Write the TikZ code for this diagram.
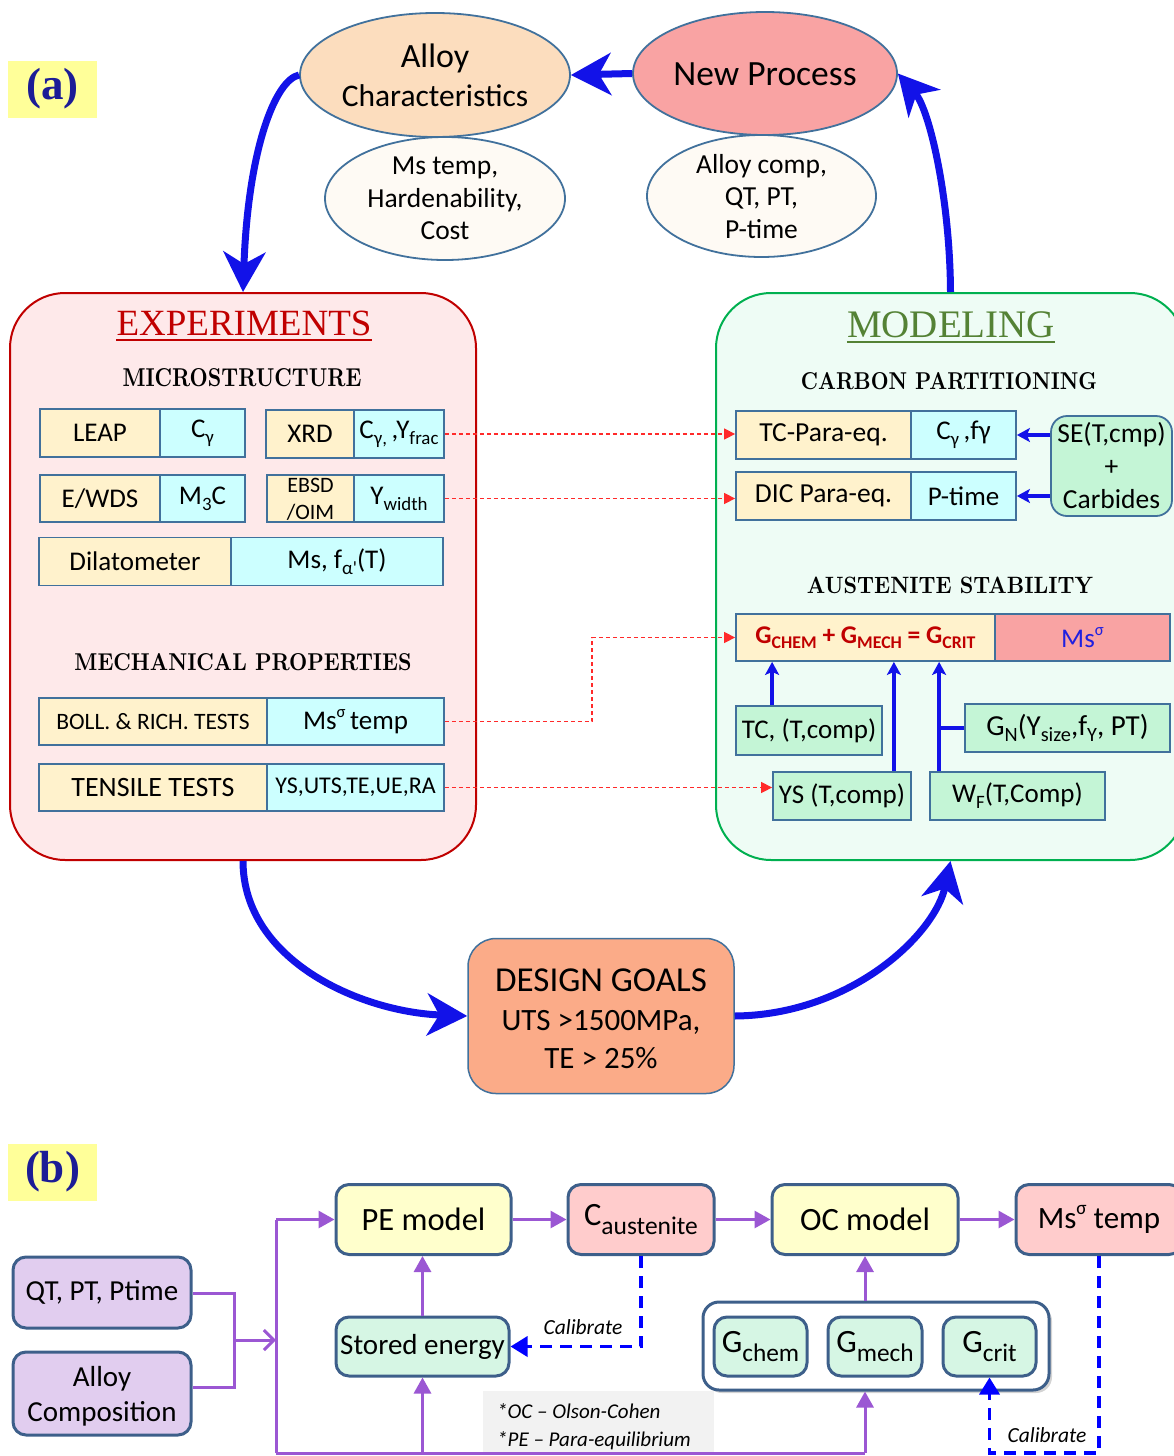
\documentclass[tikz,border=0pt]{standalone}
\usepackage{fontspec}
\usepackage{graphicx}
\usetikzlibrary{arrows.meta,shapes.geometric,shadows}
\newfontfamily\calf{Carlito}
\newfontfamily\tnr{Liberation Serif}
\definecolor{cellY}{HTML}{FFF2CC}
\definecolor{cellC}{HTML}{CCFFFF}
\definecolor{cellG}{HTML}{C4F5D6}
\definecolor{cellB}{HTML}{41719C}
\definecolor{peach}{HTML}{FCDDBE}
\definecolor{salmon}{HTML}{F9A3A3}
\definecolor{cream}{HTML}{FEFAF4}
\definecolor{expred}{HTML}{C00000}
\definecolor{expfill}{HTML}{FEE9EA}
\definecolor{modgreen}{HTML}{00B050}
\definecolor{modfill}{HTML}{EEFCF5}
\definecolor{modtitle}{HTML}{548235}
\definecolor{arrblue}{HTML}{1212E8}
\definecolor{lblyel}{HTML}{FFFF99}
\definecolor{lblblue}{HTML}{1C1C96}
\definecolor{dgfill}{HTML}{FBAB88}
\definecolor{bbord}{HTML}{3D5F8A}
\definecolor{byel}{HTML}{FFFFCC}
\definecolor{bpink}{HTML}{FFCCCC}
\definecolor{blav}{HTML}{E1CDEF}
\definecolor{bmint}{HTML}{D6F6E4}
\definecolor{purp}{HTML}{9B57D3}
\definecolor{notegray}{HTML}{F2F2F2}
\definecolor{redd}{HTML}{FF2A2A}
\definecolor{msblue}{HTML}{2020E0}
\newcommand\lo[1]{\raisebox{-0.22em}{\scalebox{0.7}{#1}}}
\newcommand\hi[1]{\raisebox{0.45em}{\scalebox{0.62}{#1}}}
\newcommand\headtxt[3]{\resizebox{#1pt}{#2pt}{\bfseries #3}}
\begin{document}
\begin{tikzpicture}[x=1pt,y=-1pt,
  sz/.style 2 args={minimum width=#1pt, minimum height=#2pt},
  ell/.style={ellipse, draw=cellB, line width=1.8pt, inner sep=0pt},
  cell/.style={draw=cellB, line width=1.8pt, inner sep=0pt, font=\calf\fontsize{27}{31}\selectfont},
  cy/.style={cell, fill=cellY},
  cc/.style={cell, fill=cellC},
  cg/.style={cell, fill=cellG},
  bigarr/.style={draw=arrblue, line width=7pt, -{Stealth[length=40pt,width=42pt,inset=12pt]}},
  sarr/.style={draw=arrblue, line width=4pt, -{Stealth[length=13pt,width=14pt,inset=3pt]}},
  sline/.style={draw=arrblue, line width=4pt},
  reddash/.style={draw=redd, line width=1.4pt, dash pattern=on 4pt off 3pt, -{Triangle[length=11pt,width=11pt]}},
  lbl/.style={fill=lblyel, sz={89}{57}, inner sep=0pt, font=\tnr\bfseries\fontsize{45}{50}\selectfont, text=lblblue},
  bbox/.style={draw=bbord, line width=3pt, rounded corners=13pt, inner sep=0pt, font=\calf\fontsize{32.5}{37}\selectfont},
  pline/.style={draw=purp, line width=3pt},
  parr/.style={pline, -{Triangle[length=16pt,width=17pt]}},
  bdash/.style={draw=blue, line width=3.5pt, dash pattern=on 12pt off 8pt, -{Triangle[length=17pt,width=20pt]}},
  etxt/.style={font=\calf\fontsize{27.5}{31}\selectfont, anchor=base},
  ]
\useasboundingbox (0,0) rectangle (1174,1456);

% ---------------- (a) ----------------
\node[lbl] (la) at (52.5,89) {(a)};

% ellipses
\node[ell, fill=peach, sz={270}{124}] (alloy) at (435,75) {};
\node[etxt, font=\calf\fontsize{34}{38}\selectfont] at (435,67) {Alloy};
\node[etxt, font=\calf\fontsize{31.5}{35}\selectfont] at (435,106) {Characteristics};

\node[ell, fill=salmon, sz={264}{123}] (newp) at (765,73.5) {};
\node[etxt, font=\calf\fontsize{35.5}{39}\selectfont] at (765,85) {New Process};

\node[ell, fill=cream, sz={240}{123}] (mst) at (445,198.5) {};
\node[etxt] at (445,174) {Ms temp,};
\node[etxt] at (445,207) {Hardenability,};
\node[etxt] at (445,239) {Cost};

\node[ell, fill=cream, sz={229}{122}] (acomp) at (761.5,196) {};
\node[etxt] at (761.5,173) {Alloy comp,};
\node[etxt] at (761.5,205) {QT, PT,};
\node[etxt] at (761.5,238) {P-time};

% main boxes
\node[draw=expred, line width=2pt, fill=expfill, rounded corners=55pt, sz={466}{567}] (exp) at (243,576.5) {};
\node[draw=modgreen, line width=2pt, fill=modfill, rounded corners=55pt, sz={469}{567}] (mod) at (950.5,576.5) {};

% titles
\node[anchor=base, inner sep=0pt, text=expred, font=\tnr\fontsize{37}{40}\selectfont] (t1) at (244,335) {EXPERIMENTS};
\draw[expred, line width=1.6pt] ([yshift=-5pt]t1.base west) -- ([yshift=-5pt]t1.base east);
\node[anchor=base, inner sep=0pt, text=modtitle, font=\tnr\fontsize{39}{42}\selectfont] (t2) at (951,337) {MODELING};
\draw[modtitle, line width=1.6pt] ([yshift=-5pt]t2.base west) -- ([yshift=-5pt]t2.base east);

\node[anchor=base, inner sep=0pt] (h1) at (242,386) {\headtxt{239}{18}{MICROSTRUCTURE}};
\node[anchor=base, inner sep=0pt] (h2) at (243,670) {\headtxt{337}{17}{MECHANICAL PROPERTIES}};
\node[anchor=base, inner sep=0pt] (h3) at (949,389) {\headtxt{296}{17}{CARBON PARTITIONING}};
\node[anchor=base, inner sep=0pt] (h4) at (950,593) {\headtxt{286}{16.5}{AUSTENITE STABILITY}};

% experiment cells
\node[cy, sz={120}{48}] (leap) at (100,433) {LEAP};
\node[cc, sz={85}{48}] (cg1) at (202.5,433) {C\lo{γ}};
\node[cy, sz={88}{48}] (xrd) at (310,434) {XRD};
\node[cc, sz={90}{48}] (cgy) at (399,434) {C\lo{γ,}\,,Y\lo{frac}};
\node[cy, sz={120}{47}] (ewds) at (100,498.5) {E/WDS};
\node[cc, sz={85}{47}] (m3c) at (202.5,498.5) {M\lo{3}C};
\node[cy, sz={87}{47}] (ebsd) at (310.5,498.5) {};
\node[etxt, font=\calf\fontsize{22}{24}\selectfont] at (310.5,492) {EBSD};
\node[etxt, font=\calf\fontsize{22}{24}\selectfont] at (310.5,519) {/OIM};
\node[cc, sz={90}{47}] (yw) at (399,498.5) {Y\lo{width}};
\node[cy, sz={192}{48}] (dil) at (135,561.5) {Dilatometer};
\node[cc, sz={212}{48}] (msf) at (337,561.5) {Ms, f\lo{α'}(T)};
\node[cy, sz={228}{47}, font=\calf\fontsize{23.5}{27}\selectfont] (boll) at (153,721.5) {BOLL. \& RICH. TESTS};
\node[cc, sz={177}{47}] (msst) at (355.5,721.5) {Ms\hi{σ}\,temp};
\node[cy, sz={228}{47}, font=\calf\fontsize{28}{31}\selectfont] (tens) at (153,787.5) {TENSILE TESTS};
\node[cc, sz={177}{47}, font=\calf\fontsize{24}{27}\selectfont] (ysv) at (355.5,787.5) {YS,UTS,TE,UE,RA};

% modeling cells
\node[cy, sz={175}{48}, font=\calf\fontsize{27.5}{31}\selectfont] (tcp) at (823.5,435) {TC-Para-eq.};
\node[cc, sz={105}{48}] (cgf) at (963.5,435) {C\lo{γ}\,,fγ};
\node[cy, sz={175}{48}, font=\calf\fontsize{27.5}{31}\selectfont] (dic) at (823.5,496) {DIC Para-eq.};
\node[cc, sz={105}{48}] (ptm) at (963.5,496) {P-time};
\node[cg, sz={121}{100}, rounded corners=16pt] (se) at (1111.5,466) {};
\node[etxt] at (1111.5,442) {SE(T,cmp)};
\node[etxt] at (1111.5,475) {+};
\node[etxt] at (1111.5,508) {Carbides};
\node[cy, sz={259}{47}, font=\calf\bfseries\fontsize{25.5}{29}\selectfont, text=expred] (geq) at (865.5,637.5) {G\lo{CHEM} + G\lo{MECH} = G\lo{CRIT}};
\node[cell, fill=salmon, sz={175}{47}, text=msblue] (msg) at (1082.5,637.5) {Ms\hi{σ}};
\node[cg, sz={146}{49}] (tcc) at (809,730.5) {TC, (T,comp)};
\node[cg, sz={205}{48}, font=\calf\fontsize{29}{32}\selectfont] (gn) at (1067.5,728) {G\lo{N}(Y\lo{size},f\lo{Y}, PT)};
\node[cg, sz={138}{48}] (ysc) at (842,796) {YS (T,comp)};
\node[cg, sz={175}{48}] (wf) at (1017.5,796) {W\lo{F}(T,Comp)};

% modeling blue arrows
\draw[sarr] (cgf.east -| se.west) -- (cgf.east);
\draw[sarr] (ptm.east -| se.west) -- (ptm.east);
\draw[sarr] ([xshift=37pt]tcc.north west) -- ([xshift=37pt]tcc.north west |- geq.south);
\draw[sarr] ([xshift=-18pt]ysc.north east) -- ([xshift=-18pt]ysc.north east |- geq.south);
\coordinate (wfx) at ([xshift=10pt]wf.north west);
\draw[sarr] (wfx) -- (wfx |- geq.south);
\draw[sline] (gn.west) -- (gn.west -| wfx);

% red dashed
\draw[reddash] (cgy.east) -- (cgy.east -| tcp.west);
\draw[reddash] (yw.east) -- (yw.east -| dic.west);
\draw[reddash] (msst.east) -- ++(147,0) |- (geq.west);
\draw[reddash] (ysv.east) -- (ysv.east -| ysc.west);

% design goals
\node[draw=cellB, line width=1.5pt, fill=dgfill, rounded corners=28pt, sz={266}{155}] (dg) at (601,1016) {};
\node[etxt, font=\calf\fontsize{35}{38}\selectfont] at (601,991) {DESIGN GOALS};
\node[etxt, font=\calf\fontsize{31}{34}\selectfont] at (601,1030) {UTS >1500MPa,};
\node[etxt, font=\calf\fontsize{31}{34}\selectfont] at (601,1068) {TE > 25\%};

% big arrows
\draw[bigarr] (newp.west) -- (alloy.east);
\draw[bigarr] (alloy.west) .. controls (275,80) and (248,150) .. (exp.north);
\draw[bigarr] (mod.north) .. controls (950,200) and (930,110) .. (newp.east);
\draw[bigarr] (exp.south) .. controls (243,960) and (360,1012) .. (dg.west);
\draw[bigarr] (dg.east) .. controls (850,1015) and (935,935) .. (mod.south);

% ---------------- (b) ----------------
\node[lbl] (lb) at (52.5,1172) {(b)};

\node[fill=notegray, sz={231}{61}, anchor=north west, inner sep=0pt] (note) at (483,1391) {};
\node[anchor=base west, inner sep=0pt, font=\calf\itshape\fontsize{21}{24}\selectfont] at (497,1418) {*OC \textendash\ Olson-Cohen};
\node[anchor=base west, inner sep=0pt, font=\calf\itshape\fontsize{21}{24}\selectfont] at (497,1446) {*PE \textendash\ Para-equilibrium};

\node[bbox, fill=byel, sz={175}{70}] (pe) at (423.5,1219.5) {PE model};
\node[bbox, fill=bpink, sz={146}{70}] (caus) at (641,1219.5) {C\raisebox{-0.28em}{\fontsize{25.5}{30}\selectfont austenite}};
\node[bbox, fill=byel, sz={186}{70}] (oc) at (865,1219.5) {OC model};
\node[bbox, fill=bpink, sz={166}{70}, font=\calf\fontsize{31}{36}\selectfont] (msb) at (1099,1219.5) {Ms\hi{σ} temp};
\node[bbox, fill=blav, sz={178}{71}, font=\calf\fontsize{29}{32}\selectfont] (qt) at (102,1292.5) {QT, PT, Ptime};
\node[bbox, fill=blav, sz={178}{83}] (alc) at (102,1393.5) {};
\node[etxt, font=\calf\fontsize{29}{32}\selectfont] at (102,1386) {Alloy};
\node[etxt, font=\calf\fontsize{29}{32}\selectfont] at (102,1421) {Composition};
\node[bbox, fill=bmint, sz={173}{59}, font=\calf\fontsize{29}{33}\selectfont] (se2) at (422.5,1346.5) {Stored energy};
\node[bbox, fill=white, sz={346}{88}, rounded corners=16pt, drop shadow={shadow xshift=3pt,shadow yshift=-3pt,opacity=0.35}] (grp) at (876,1346) {};
\node[bbox, fill=bmint, sz={93}{59}] (gch) at (760.5,1346.5) {G\raisebox{-0.3em}{\scalebox{0.78}{chem}}};
\node[bbox, fill=bmint, sz={94}{59}] (gme) at (875,1346.5) {G\raisebox{-0.3em}{\scalebox{0.78}{mech}}};
\node[bbox, fill=bmint, sz={93}{59}] (gcr) at (989.5,1346.5) {G\raisebox{-0.3em}{\scalebox{0.78}{crit}}};

% purple connectors
\coordinate (jt) at (234,1293);
\coordinate (jb) at (234,1387);
\coordinate (jm) at (234,1340);
\coordinate (tt) at (276,1219.5);
\coordinate (tb) at (276,1453);
\draw[pline] (qt.east |- jt) -- (jt) -- (jb) -- (jb -| alc.east);
\draw[pline, -{Straight Barb[length=10pt,width=20pt]}] (jm) -- (jm -| tt);
\draw[pline] (tb) -- (tt);
\draw[parr] (tt) -- (pe.west);
\draw[pline] (tb) -- (tb -| oc.south);
\draw[parr] (tb -| se2.south) -- (se2.south);
\draw[parr] (tb -| oc.south) -- (oc.south |- grp.south);
\draw[parr] (se2.north) -- (se2.north |- pe.south);
\draw[parr] (oc.south |- grp.north) -- (oc.south);
\draw[parr] (pe.east) -- (caus.west);
\draw[parr] (caus.east) -- (oc.west);
\draw[parr] (oc.east) -- (msb.west);

% blue dashed
\draw[bdash] (caus.south) -- (caus.south |- se2.east) -- (se2.east);
\draw[bdash] (msb.south) -- (msb.south |- tb) -- (gcr.south |- tb) -- (gcr.south);
\node[font=\calf\itshape\fontsize{21.5}{24}\selectfont, anchor=base] at (583,1334) {Calibrate};
\node[font=\calf\itshape\fontsize{21.5}{24}\selectfont, anchor=base] at (1047,1442) {Calibrate};
\end{tikzpicture}
\end{document}
